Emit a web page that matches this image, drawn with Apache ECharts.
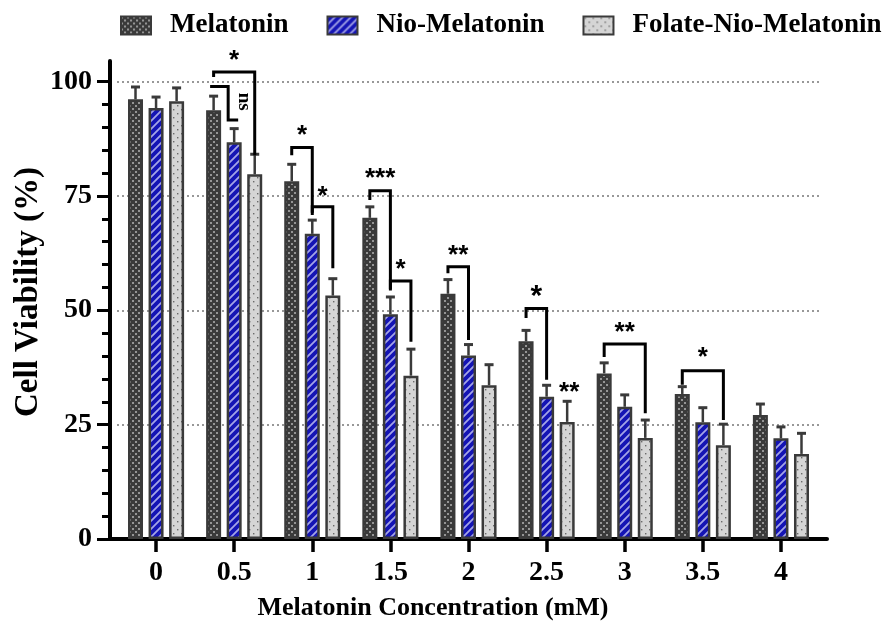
<!DOCTYPE html>
<html><head><meta charset="utf-8">
<script src="https://cdn.jsdelivr.net/npm/echarts@6/dist/echarts.min.js"></script>
<style>html,body{margin:0;padding:0;background:#fff}#c{width:895px;height:635px}</style>
</head><body><div id="c"></div>
<script>
// ---------- data ----------
const categories = ['0', '0.5', '1', '1.5', '2', '2.5', '3', '3.5', '4'];
const seriesNames = ['Melatonin', 'Nio-Melatonin', 'Folate-Nio-Melatonin'];
const melatonin = [96.1, 93.7, 78.2, 70.2, 53.6, 43.2, 36.2, 31.7, 27.1];
const nioMelatonin = [94.2, 86.7, 66.7, 49.1, 40.1, 31.1, 28.9, 25.5, 22.0];
const folateNioMelatonin = [95.7, 79.7, 53.2, 35.7, 33.6, 25.6, 22.1, 20.5, 18.6];
const melatoninErr = [2.7, 3.1, 3.7, 2.4, 3.1, 2.4, 2.3, 1.6, 2.4];
const nioMelatoninErr = [2.4, 3.0, 3.0, 3.8, 2.4, 2.5, 2.6, 3.2, 2.5];
const folateNioMelatoninErr = [2.9, 4.4, 3.7, 5.8, 4.5, 4.5, 3.9, 4.6, 4.5];
const yTickValues = [0, 25, 50, 75, 100];
const xTitle = 'Melatonin Concentration (mM)';
const yTitle = 'Cell Viability (%)';
// significance brackets: [category, left bar, right bar, left leg bottom, bracket top, right leg bottom, label, label centre]
const sigBrackets = [
  [1, 0, 2, 101.0, 102.1, 83.9, '*', 105.8],
  [2, 0, 1, 83.9, 85.6, 70.8, '*', 89.4],
  [2, 1, 2, 71.3, 72.6, 59.2, '*', 76.1],
  [3, 0, 1, 74.1, 76.1, 54.3, '***', 80.0],
  [3, 1, 2, 54.6, 56.4, 43.1, '*', 60.1],
  [4, 0, 1, 58.1, 59.5, 43.5, '**', 63.2],
  [5, 0, 1, 48.3, 50.4, 34.8, '*', 54.4],
  [6, 0, 2, 39.8, 42.6, 27.5, '**', 46.4],
  [7, 0, 2, 33.7, 36.8, 26.0, '*', 40.9]
];
// lone significance label: [category, bar, label, label centre]
const sigLabels = [[5, 2, '**', 33.1]];
// "ns" step bracket: [category, upper level, lower level, label, label centre]
const nsSteps = [[1, 98.9, 91.6, 'ns', 95.6]];

// ---------- style / layout ----------
const FONT = 'Liberation Serif';
const BAR_W = 15, BAR_GAP = 0.37;
const AX_LEFT = 110, AX_RIGHT = 68, PLOT_TOP = 81.5, PLOT_BOTTOM = 96, AX_TOP = 61;
const CAT_LEFT = 117, CAT_RIGHT = 75;
const barOffset = k => (k - 1) * BAR_W * (1 + BAR_GAP);

function makePattern(w, h, draw) {
  const c = document.createElement('canvas'); c.width = w; c.height = h;
  draw(c.getContext('2d'), w, h); return c;
}
const melPat = makePattern(6, 6, g => {
  g.fillStyle = '#3a3a3a'; g.fillRect(0, 0, 6, 6);
  g.fillStyle = '#959595'; g.fillRect(0, 0, 2, 2); g.fillRect(3, 3, 2, 2);
});
const nioPat = makePattern(8, 8, g => {
  g.fillStyle = '#1414b4'; g.fillRect(0, 0, 8, 8);
  g.strokeStyle = '#a4a4e6'; g.lineWidth = 1.8; g.beginPath();
  g.moveTo(-2, 10); g.lineTo(10, -2); g.moveTo(-6, 6); g.lineTo(6, -6); g.moveTo(2, 14); g.lineTo(14, 2);
  g.stroke();
});
const folPat = makePattern(8, 8, g => {
  g.fillStyle = '#d5d5d5'; g.fillRect(0, 0, 8, 8);
  g.fillStyle = '#6a6a6a'; g.fillRect(1, 1, 1.4, 1.4); g.fillRect(5, 5, 1.4, 1.4);
});
const patterns = [melPat, nioPat, folPat];
const values = [melatonin, nioMelatonin, folateNioMelatonin];
const errs = [melatoninErr, nioMelatoninErr, folateNioMelatoninErr];

const chart = echarts.init(document.getElementById('c'), null, { renderer: 'canvas' });

const barSeries = seriesNames.map((name, k) => ({
  type: 'bar', name, xAxisIndex: 0, yAxisIndex: 0, data: values[k],
  barWidth: BAR_W, barGap: (BAR_GAP * 100) + '%',
  itemStyle: { color: { image: patterns[k], repeat: 'repeat' }, borderColor: '#3a3a3a', borderWidth: 2.5 },
  emphasis: { disabled: true }, z: 3
}));

const errSeries = seriesNames.map((name, k) => ({
  type: 'custom', name: name + ' err', xAxisIndex: 0, yAxisIndex: 0, clip: false, z: 2,
  data: values[k].map((v, i) => [i, v, errs[k][i]]),
  renderItem: (params, api) => {
    const c = api.value(0), v = api.value(1), e = api.value(2);
    const b = api.coord([c, v]), t = api.coord([c, v + e]);
    const x = b[0] + barOffset(k);
    const st = { stroke: '#3a3a3a', lineWidth: 2.5 };
    return { type: 'group', children: [
      { type: 'line', shape: { x1: x, y1: b[1], x2: x, y2: t[1] }, style: st },
      { type: 'line', shape: { x1: x - 4.5, y1: t[1], x2: x + 4.5, y2: t[1] }, style: { stroke: '#3a3a3a', lineWidth: 3 } }
    ] };
  }
}));

const starStyle = (txt, fs) => ({ text: txt, font: 'bold ' + fs + 'px Liberation Sans', fill: '#000', align: 'center', verticalAlign: 'middle' });

const bracketSeries = {
  type: 'custom', name: 'brackets', xAxisIndex: 0, yAxisIndex: 0, clip: false, z: 5,
  data: sigBrackets.map(r => [r[0], r[4]]),
  renderItem: (params, api) => {
    const r = sigBrackets[params.dataIndex];
    const cx = api.coord([r[0], 0])[0];
    const xl = cx + barOffset(r[1]), xr = cx + barOffset(r[2]);
    const yl = api.coord([r[0], r[3]])[1], yt = api.coord([r[0], r[4]])[1], yr = api.coord([r[0], r[5]])[1];
    const fs = r[6] === '*' && r[0] === 5 ? 30 : 26;
    const ys = api.coord([r[0], r[7]])[1] + 0.22 * fs;
    return { type: 'group', children: [
      { type: 'polyline', shape: { points: [[xl, yl], [xl, yt], [xr, yt], [xr, yr]] }, style: { stroke: '#000', lineWidth: 3, fill: null } },
      { type: 'text', x: (xl + xr) / 2, y: ys, style: starStyle(r[6], fs) }
    ] };
  }
};

const labelSeries = {
  type: 'custom', name: 'labels', xAxisIndex: 0, yAxisIndex: 0, clip: false, z: 5,
  data: sigLabels.map(r => [r[0], r[3]]),
  renderItem: (params, api) => {
    const r = sigLabels[params.dataIndex];
    const p = api.coord([r[0], r[3]]);
    return { type: 'text', x: p[0] + barOffset(r[1]) + 2, y: p[1] + 0.22 * 26, style: starStyle(r[2], 26) };
  }
};

const nsSeries = {
  type: 'custom', name: 'ns', xAxisIndex: 0, yAxisIndex: 0, clip: false, z: 5,
  data: nsSteps.map(r => [r[0], r[1]]),
  renderItem: (params, api) => {
    const r = nsSteps[params.dataIndex];
    const cx = api.coord([r[0], 0])[0];
    const x0 = cx + barOffset(0), x1 = cx + barOffset(1);
    const yu = api.coord([r[0], r[1]])[1], yd = api.coord([r[0], r[2]])[1], yt = api.coord([r[0], r[4]])[1];
    return { type: 'group', children: [
      { type: 'polyline', shape: { points: [[x0 - 3.5, yu], [x1 - 6, yu], [x1 - 6, yd], [x1 + 4, yd]] }, style: { stroke: '#000', lineWidth: 3, fill: null } },
      { type: 'text', x: x1 + 10, y: yt, rotation: -Math.PI / 2, style: { text: r[3], font: 'bold 19px ' + FONT, fill: '#000', align: 'center', verticalAlign: 'middle' } }
    ] };
  }
};

chart.setOption({
  animation: false,
  backgroundColor: '#fff',
  title: {
    text: xTitle, left: 433, top: 595, textAlign: 'center', padding: 0,
    textStyle: { fontFamily: FONT, fontWeight: 'bold', fontSize: 26, color: '#000' }
  },
  graphic: [{
    type: 'text', x: 28, y: 292, rotation: Math.PI / 2,
    style: { text: yTitle, font: 'bold 33px ' + FONT, fill: '#000', align: 'center', verticalAlign: 'middle' }
  }],
  legend: {
    data: seriesNames, left: 120, top: 12, padding: 0, icon: 'rect', itemWidth: 30, itemHeight: 18, itemGap: 38,
    selectedMode: false,
    textStyle: { fontFamily: FONT, fontWeight: 'bold', fontSize: 27, color: '#000', padding: [0, 0, 0, 14] }
  },
  grid: [
    { left: CAT_LEFT, right: CAT_RIGHT, top: PLOT_TOP, bottom: PLOT_BOTTOM },
    { left: AX_LEFT, right: AX_RIGHT, top: AX_TOP, bottom: PLOT_BOTTOM }
  ],
  xAxis: [
    { type: 'category', gridIndex: 0, data: categories,
      axisLine: { show: false },
      axisTick: { show: true, alignWithLabel: true, length: 13, lineStyle: { color: '#000', width: 3.5 } },
      axisLabel: { fontFamily: FONT, fontWeight: 'bold', fontSize: 28, color: '#000', margin: 20 },
      splitLine: { show: false } },
    { type: 'value', gridIndex: 1, min: 0, max: 1,
      axisLine: { show: true, onZero: false, lineStyle: { color: '#000', width: 4 } },
      axisTick: { show: false }, axisLabel: { show: false }, splitLine: { show: false } }
  ],
  yAxis: [
    { type: 'value', gridIndex: 0, min: yTickValues[0], max: yTickValues[yTickValues.length - 1], interval: yTickValues[1] - yTickValues[0],
      offset: CAT_LEFT - AX_LEFT,
      axisLine: { show: false },
      axisTick: { show: true, length: 13, lineStyle: { color: '#000', width: 3 } },
      minorTick: { show: true, splitNumber: 5, length: 8, lineStyle: { color: '#000', width: 3 } },
      axisLabel: { fontFamily: FONT, fontWeight: 'bold', fontSize: 28, color: '#000', margin: 18 },
      splitLine: { show: true, lineStyle: { type: [2, 3], color: '#777', width: 1.5 } } },
    { type: 'value', gridIndex: 1, min: 0, max: 1,
      axisLine: { show: true, onZero: false, lineStyle: { color: '#000', width: 4 } },
      axisTick: { show: false }, axisLabel: { show: false }, splitLine: { show: false } }
  ],
  series: [...barSeries, ...errSeries, bracketSeries, labelSeries, nsSeries]
});
</script>
</body></html>
